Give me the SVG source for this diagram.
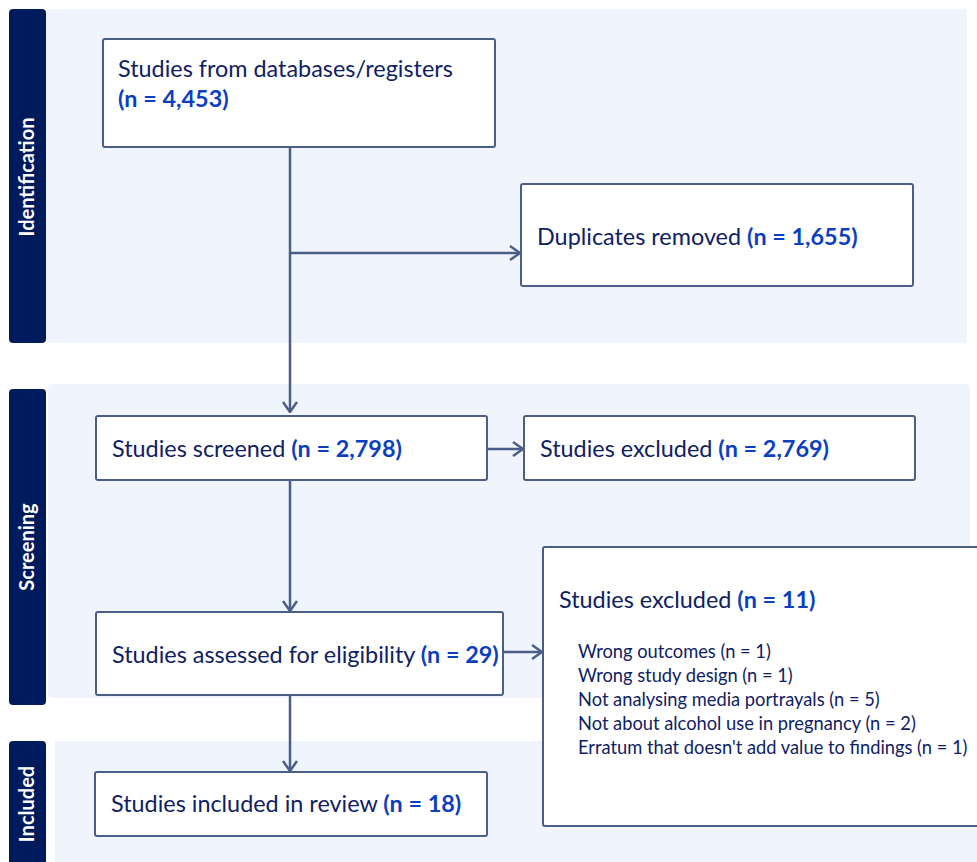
<svg xmlns="http://www.w3.org/2000/svg" width="977" height="862" viewBox="0 0 977 862">
<defs>
<style>
.band{fill:#F0F5FD}
.bar{fill:#001B5C}
.lbl{fill:#FFFFFF;font-family:Lato,"Liberation Sans",sans-serif;font-weight:bold;font-size:20px;text-anchor:middle}
.box{fill:#FFFFFF;stroke:#4B5F86;stroke-width:2}
.t{fill:#0F2163;font-family:Lato,"Liberation Sans",sans-serif;font-size:23.4px}
.s{fill:#0F2163;font-family:Lato,"Liberation Sans",sans-serif;font-size:18.3px}
.n{fill:#0B3FBF;font-weight:bold}
.c{fill:none;stroke:#4B5F86;stroke-width:2.5}
</style>
<marker id="ah" viewBox="0 0 12 16" refX="11" refY="8" markerWidth="12" markerHeight="16" markerUnits="userSpaceOnUse" orient="auto">
<path d="M1,1 L11,8 L1,15" fill="none" stroke="#4B5F86" stroke-width="2.5"/>
</marker>
</defs>
<g id="bands">
<rect class="band" x="46" y="9" width="921" height="334" rx="4"/>
<rect class="bar" x="9" y="9" width="37" height="334" rx="4"/>
<rect class="band" x="48" y="384" width="922" height="314" rx="4"/>
<rect class="bar" x="9" y="389" width="37" height="316" rx="4"/>
<rect class="band" x="55" y="741" width="922" height="121"/>
<rect class="bar" x="9" y="741" width="37" height="125" rx="4"/>
<text class="lbl" transform="translate(34,177) rotate(-90)">Identification</text>
<text class="lbl" transform="translate(34,547) rotate(-90)">Screening</text>
<text class="lbl" transform="translate(34,804) rotate(-90)">Included</text>
</g>
<g id="connectors">
<path class="c" d="M290,147 V412" marker-end="url(#ah)"/>
<path class="c" d="M290,253 H520" marker-end="url(#ah)"/>
<path class="c" d="M487,449 H523" marker-end="url(#ah)"/>
<path class="c" d="M290,480 V611" marker-end="url(#ah)"/>
<path class="c" d="M503,652 H542" marker-end="url(#ah)"/>
<path class="c" d="M290,695 V771" marker-end="url(#ah)"/>
</g>
<g id="n1">
<rect class="box" x="103" y="39" width="392" height="108" rx="2"/>
<text class="t" x="118" y="77">Studies from databases/registers</text>
<text class="t n" x="118" y="107">(n = 4,453)</text>
</g>
<g id="n2">
<rect class="box" x="521" y="184" width="392" height="102" rx="2"/>
<text class="t" x="537" y="245">Duplicates removed <tspan class="n">(n = 1,655)</tspan></text>
</g>
<g id="n3">
<rect class="box" x="96" y="416" width="391" height="64" rx="2"/>
<text class="t" x="112" y="457">Studies screened <tspan class="n">(n = 2,798)</tspan></text>
</g>
<g id="n4">
<rect class="box" x="524" y="416" width="391" height="64" rx="2"/>
<text class="t" x="540" y="457">Studies excluded <tspan class="n">(n = 2,769)</tspan></text>
</g>
<g id="n5">
<rect class="box" x="96" y="612" width="407" height="83" rx="2"/>
<text class="t" x="112" y="663">Studies assessed for eligibility <tspan class="n">(n = 29)</tspan></text>
</g>
<g id="n6">
<rect class="box" x="543" y="547" width="440" height="279" rx="2"/>
<text class="t" x="559" y="608">Studies excluded <tspan class="n">(n = 11)</tspan></text>
<text class="s" x="578" y="658">Wrong outcomes (n = 1)</text>
<text class="s" x="578" y="682">Wrong study design (n = 1)</text>
<text class="s" x="578" y="706">Not analysing media portrayals (n = 5)</text>
<text class="s" x="578" y="730">Not about alcohol use in pregnancy (n = 2)</text>
<text class="s" x="578" y="754">Erratum that doesn't add value to findings (n = 1)</text>
</g>
<g id="n7">
<rect class="box" x="95" y="772" width="392" height="64" rx="2"/>
<text class="t" x="111" y="812">Studies included in review <tspan class="n">(n = 18)</tspan></text>
</g>
</svg>
